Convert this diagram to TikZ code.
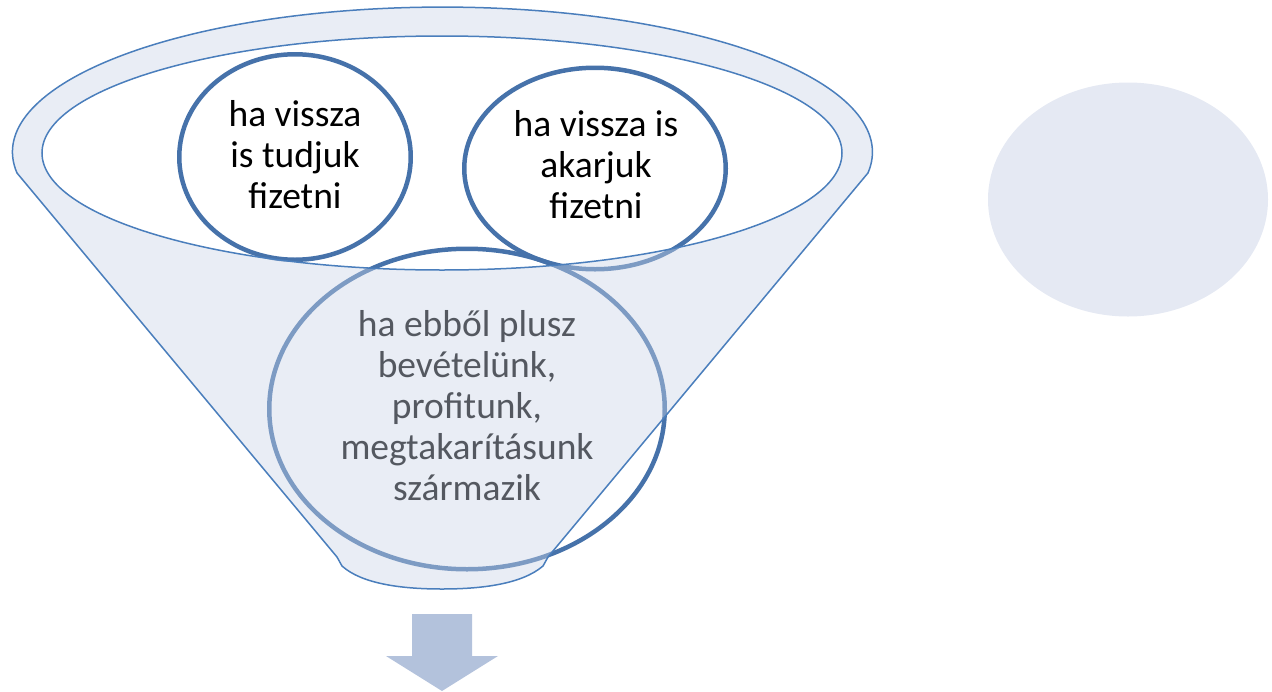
\documentclass[tikz,border=0pt]{standalone}
\usepackage{fontspec}
\setmainfont{Carlito}
\usetikzlibrary{shapes.geometric}
\definecolor{circblue}{RGB}{70,114,170}
\definecolor{funnelline}{RGB}{74,126,188}
\definecolor{funnelfill}{RGB}{202,212,231}
\definecolor{sidefill}{RGB}{229,233,243}
\definecolor{arrowfill}{RGB}{179,194,220}
\tikzset{
  circ/.style={ellipse, draw=circblue, line width=4.5pt, inner sep=0pt},
  txt/.style={align=center, inner sep=0pt, font=\fontsize{37.5}{41}\selectfont, text=black},
  funnelband/.style={fill=funnelfill, fill opacity=0.42, even odd rule},
  funneledge/.style={draw=funnelline, line width=1.5pt},
}
\begin{document}
\begin{tikzpicture}[x=1pt,y=1pt]
\useasboundingbox (0,0) rectangle (1272,-691);
% right pale ellipse
\node[ellipse, fill=sidefill, minimum width=280pt, minimum height=234pt, inner sep=0pt] (side) at (1128,-199.5) {};
% circles
\node[circ, minimum width=231.5pt, minimum height=205.5pt] (c1) at (295,-157) {};
\node[circ, minimum width=261.5pt, minimum height=201.5pt] (c2) at (595,-168.5) {};
\node[circ, minimum width=395.5pt, minimum height=320.5pt] (c3) at (467,-409) {};
% texts
\node[txt] (t1) at (295,-155) {ha vissza\\is tudjuk\\fizetni};
\node[txt] (t2) at (596,-165) {ha vissza is\\akarjuk\\fizetni};
\node[txt] (t3) at (467,-406) {ha ebből plusz\\bevételünk,\\profitunk,\\megtakarításunk\\származik};
% funnel translucent body
\fill[funnelband]
  (17,-173) arc[start angle=188.3, end angle=-8.3, x radius=430, y radius=145]
  -- (548,-557) -- (543,-566)
  .. controls (522,-584) and (482,-589) .. (442,-589)
  .. controls (402,-589) and (362,-584) .. (342,-566)
  -- (337,-557)
  -- cycle
  (442,-153) ellipse[x radius=400, y radius=117];
% funnel outlines
\draw[funneledge, line join=round]
  (17,-173) arc[start angle=188.3, end angle=-8.3, x radius=430, y radius=145]
  -- (548,-557) -- (543,-566)
  .. controls (522,-584) and (482,-589) .. (442,-589)
  .. controls (402,-589) and (362,-584) .. (342,-566)
  -- (337,-557)
  -- cycle;
\draw[funneledge] (442,-153) ellipse[x radius=400, y radius=117];
% arrow
\fill[arrowfill] (412,-614) -- (472,-614) -- (472,-656) -- (498,-656)
  -- (442,-691) -- (386,-656) -- (412,-656) -- cycle;
\end{tikzpicture}
\end{document}
